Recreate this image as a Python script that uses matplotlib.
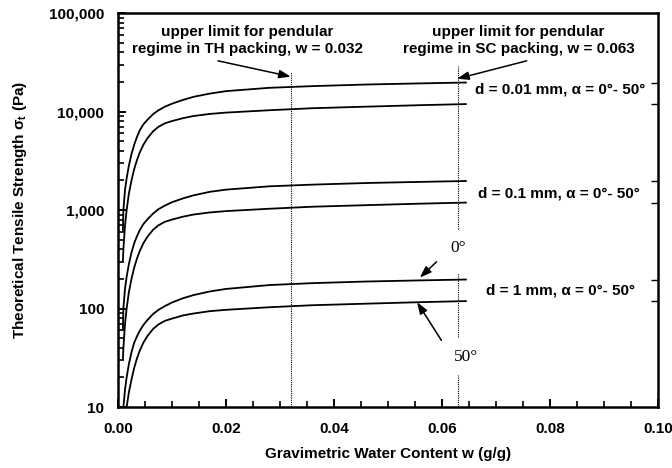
import numpy as np
import matplotlib
matplotlib.use("Agg")
import matplotlib.pyplot as plt
from matplotlib.ticker import FuncFormatter, MultipleLocator, LogLocator, NullFormatter

plt.rcParams["font.family"] = ["Liberation Sans", "DejaVu Sans"]
plt.rcParams["font.weight"] = "bold"
plt.rcParams["mathtext.fontset"] = "custom"
plt.rcParams["mathtext.rm"] = "Liberation Sans:bold"
plt.rcParams["mathtext.it"] = "Liberation Sans:bold"

# ---- data ----
w = [0.0009, 0.0010, 0.0013, 0.0016, 0.0020, 0.0025, 0.0030, 0.0035, 0.0040,
     0.0047, 0.0055, 0.0065, 0.0075, 0.0087, 0.010, 0.012, 0.014, 0.017,
     0.020, 0.028, 0.036, 0.046, 0.056, 0.0646]

# d = 0.01 mm
s001_a0 = [600, 1000, 1600, 2100, 2800, 3700, 4600, 5500, 6400,
           7400, 8300, 9400, 10300, 11200, 12000, 13100, 14100, 15200,
           16100, 17400, 18100, 18800, 19300, 19700]
s001_a50 = [300, 400, 700, 1000, 1450, 2000, 2600, 3200, 3800,
            4600, 5400, 6300, 7000, 7600, 8000, 8550, 9000, 9450,
            9750, 10300, 10800, 11200, 11600, 11900]
# d = 0.1 mm
s01_a0 = [60, 100, 160, 210, 280, 370, 460, 540, 620,
          720, 810, 920, 1020, 1110, 1200, 1310, 1410, 1530,
          1610, 1740, 1810, 1880, 1930, 1970]
s01_a50 = [30, 40, 70, 100, 145, 200, 260, 320, 380,
           460, 540, 630, 700, 760, 800, 855, 900, 945,
           975, 1030, 1080, 1120, 1160, 1190]
# d = 1 mm
s1_a0 = [6, 10, 15, 20, 27, 36, 45, 52, 59,
         68, 77, 88, 97, 106, 115, 127, 137, 149,
         158, 173, 181, 188, 193, 197]
s1_a50 = [3, 4, 7, 10, 14, 19, 25, 31, 37,
          45, 53, 62, 69, 75, 79, 85, 89, 94,
          97, 103, 108, 112, 116, 119]

curves = [s001_a0, s001_a50, s01_a0, s01_a50, s1_a0, s1_a50]

w_th = 0.032
w_sc = 0.063
# visible pieces of the dotted limit lines (gaps leave room for the labels)
th_segments = [(10, 25400)]
sc_segments = [(10, 21), (51, 231), (643, 29200)]

d_labels = ["d = 0.01 mm, \u03b1 = 0\u00b0- 50\u00b0",
            "d = 0.1 mm, \u03b1 = 0\u00b0- 50\u00b0",
            "d = 1 mm, \u03b1 = 0\u00b0- 50\u00b0"]
d_label_pos = [(0.0661, 16700), (0.0667, 1486), (0.0681, 152)]

fig = plt.figure(figsize=(6.72, 4.68), dpi=100)
ax = fig.add_axes([0.1756, 0.1303, 0.8034, 0.8419])

for vals in curves:
    ax.plot(w, vals, color="black", linewidth=1.3, solid_capstyle="butt")

for lo, hi in th_segments:
    ax.vlines(w_th, lo, hi, colors="black", linestyles=(0, (1.0, 1.0)), linewidth=0.8)
for lo, hi in sc_segments:
    ax.vlines(w_sc, lo, hi, colors="black", linestyles=(0, (1.0, 1.0)), linewidth=0.8)

ax.set_yscale("log")
ax.set_xlim(0, 0.10)
ax.set_ylim(10, 100000)

ax.xaxis.set_major_locator(MultipleLocator(0.02))
ax.xaxis.set_minor_locator(MultipleLocator(0.005))
ax.xaxis.set_major_formatter(FuncFormatter(lambda v, p: f"{v:.2f}"))
ax.yaxis.set_major_locator(LogLocator(base=10))
ax.yaxis.set_minor_locator(LogLocator(base=10, subs=np.arange(2, 10)))
ax.yaxis.set_minor_formatter(NullFormatter())
ax.yaxis.set_major_formatter(FuncFormatter(lambda v, p: f"{int(round(v)):,}"))

ax.tick_params(which="major", direction="in", length=6, width=1.4, labelsize=11)
ax.tick_params(which="minor", direction="in", length=4, width=1.2)
ax.tick_params(axis="x", which="major", pad=11)
ax.tick_params(axis="y", which="major", pad=10)
for sp in ax.spines.values():
    sp.set_linewidth(1.8)

# small marks on the right frame at the curve end levels
ax2 = ax.twinx()
ax2.set_yscale("log")
ax2.set_ylim(ax.get_ylim())
ax2.set_yticks([c[-1] for c in curves])
ax2.yaxis.set_minor_locator(plt.NullLocator())
ax2.tick_params(axis="y", direction="in", length=5, width=1.0, labelright=False)
for sp in ax2.spines.values():
    sp.set_visible(False)

ax.set_xlabel("Gravimetric Water Content w (g/g)", fontsize=11, fontweight="bold", labelpad=8)
ax.set_ylabel("Theoretical Tensile Strength \u03c3$_t$ (Pa)", fontsize=11,
              fontweight="bold", labelpad=14)

ax.text(0.0240, 52700, "upper limit for pendular\nregime in TH packing, w = 0.032",
        ha="center", va="center", fontsize=11, fontweight="bold", linespacing=1.3)
ax.text(0.0742, 52700, "upper limit for pendular\nregime in SC packing, w = 0.063",
        ha="center", va="center", fontsize=11, fontweight="bold", linespacing=1.3)

arrow = dict(arrowstyle="-|>,head_length=0.7,head_width=0.25", color="black", lw=1.1,
             shrinkA=0, shrinkB=0)
ax.annotate("", xy=(0.0320, 22600), xytext=(0.01852, 32700), arrowprops=arrow)
ax.annotate("", xy=(0.0628, 21500), xytext=(0.0757, 32700), arrowprops=arrow)
ax.annotate("", xy=(0.0559, 206), xytext=(0.0590, 298), arrowprops=arrow)
ax.annotate("", xy=(0.0554, 116), xytext=(0.0599, 47.5), arrowprops=arrow)

ax.text(0.0630, 413, "0\u00b0", ha="center", va="center", fontsize=12.5,
        family="Liberation Serif", fontweight="normal")
ax.text(0.0644, 32, "50\u00b0", ha="center", va="center", fontsize=12.5,
        family="Liberation Serif", fontweight="normal")

for lab, (x, y) in zip(d_labels, d_label_pos):
    ax.text(x, y, lab, ha="left", va="center", fontsize=11, fontweight="bold")

fig.savefig("out.png", dpi=100)
